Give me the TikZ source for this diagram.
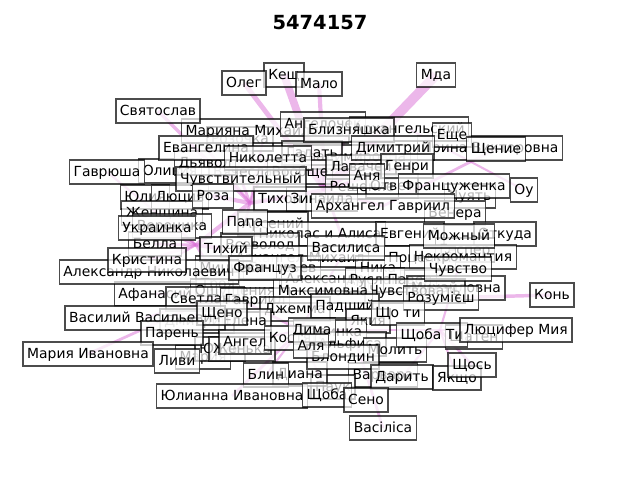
\documentclass[tikz,border=0pt]{standalone}
\usepackage{fontspec}
\setmainfont{DejaVu Sans}
\usetikzlibrary{backgrounds}
\definecolor{orchid}{RGB}{218,112,214}
\tikzset{
  lbl/.style={draw=black, fill=white, opacity=0.7, text opacity=1, line width=1pt, inner xsep=3pt, inner ysep=3pt, text height=8.8pt, text depth=2.6pt, font=\fontsize{10}{12}\selectfont},
  link/.style={draw=orchid, opacity=0.5},
}

\begin{document}
\begin{tikzpicture}[x=0.72pt, y=-0.72pt]
	\useasboundingbox (0,0) rectangle (640,480);
	\node[font=\bfseries\fontsize{14}{17}\selectfont] (title) at (320,23) {5474157};
	\foreach \id/\xx/\yy in {hubA/250/203, hubB/196/245, hubC/325/190, hubD/225/292, hubE/300/330, hubF/440/330} {\coordinate (\id) at (\xx,\yy);}
	\foreach \id/\xx/\yy/\txt in {rozochka/240/139/Розочка, mariyana/265/131/Марияна Михайловна, angelochek/323/124/Ангелочек, vyacheslav/247/172/Вячеслав, olivia/170/171/Оливия, dyavol/205/163/Дьявол, vladimirovna/352/157/Владимировна, gadat/312/153/Гадать, voobshche/300/172/Вообще, lavachey/361/167/Лавачей, reshenie/362/187/Решение, otvet/392/186/Ответ, chuyat/470/196/Чуять, irina/490/148/Ирина Викторовна, arkhangelsky/409/129/Архангельский, yuliya/145/197/Юлия, lyutsiya/180/197/Люция, zhenshchina/162/213/Женщина, veronika/172/226/Вероника, bella/155/244/Белла, tikhon/280/199/Тихон, zinaida/322/199/Зинаида, arseniy/273/224/Арсений, nikolas/320/234/Николас и Алиса, venera/455/213/Венера, evgeniy/410/234/Евгений, otkuda/505/234/Откуда, gesper/465/250/Геспер, potseluy/420/258/Поцелуй, nekromantiya/463/257/Некромантия, vsevolod/260/245/Всеволод, mikhail/300/258/Архангел Михаил, solovyev/282/268/Соловьев, aleksandr/325/279/Александр, nika/378/268/Ника, ruslan/375/280/Руслан, pavel/410/280/Павел, mikhaylovna/456/288/Михайловна, chuvstvovat/415/291/Чувствовать, mitskevich/236/268/Мицкевич, troya/218/284/Троя, afanasiy/155/294/Афанасий, oshchushcheniya/235/291/Ощущения, svetlana/205/299/Светлана, gavriil/255/300/Гавриил, maksimovna/323/291/Максимовна, dzhemma/295/309/Джемма, dmitriy/197/321/Дмитрий, elena/245/321/Елена, padshiy/345/306/Падший, yakiya/368/321/Якия, shaten/474/337/Шатен, marinka/330/332/Маринка, alfisa/350/344/Альфиса, molit/395/350/Молить, varvara/383/375/Варвара, mariya/203/357/Мария, yuriy/220/349/Юрий, zhenka/242/349/Женька, pauk/333/387/Паук, diana/300/374/Диана} {\node[lbl] (\id) at (\xx,\yy) {\txt};}
	\foreach \id/\xx/\yy/\txt in {kesh/284/75/Кещ, malo/319/84/Мало, oleg/244/83/Олег, mda/436/75/Мда, svyatoslav/158/111/Святослав, gavryusha/107/172/Гаврюша, evangelina/206/148/Евангелина, nikoletta/268/158/Николетта, bliznyashka/349/130/Близняшка, eshche/452/135/Еще, dimitriy/393/148/Димитрий, shchenie/496/149/Щение, genri/407/166/Генри, anya/367/176/Аня, chuvstvitelny/241/179/Чувствительный, roza/213/196/Роза, frantsuzhenka/454/186/Француженка, ou/524/190/Оу, arkhangel/383/206/Архангел Гавриил, ukrainka/157/228/Украинка, papa/245/222/Папа, vasilisa/346/248/Василиса, mozhny/459/236/Можный, tikhiy/226/249/Тихий, aleksandrn/149/272/Александр Николаевич, kristina/147/260/Кристина, frantsuz/265/268/Француз, chuvstvo/458/269/Чувство, rozumiesh/441/298/Розумієш, kon/552/295/Конь, vasiliy/145/318/Василий Васильевич, shcheno/222/313/Щено, paren/172/333/Парень, mariyai/88/354/Мария Ивановна, livi/177/361/Ливи, angel/245/342/Ангел, kostya/290/338/Костя, dima/312/330/Дима, blondin/343/357/Блондин, alya/311/346/Аля, shchoty/398/313/Що ти, shchobati/432/335/Щоба Ти, lyutsifer/516/330/Люцифер Мия, darit/402/377/Дарить, yakshcho/457/378/Якщо, shchos/472/365/Щось, blin/266/375/Блин, yulianna/232/396/Юлианна Ивановна, shchoba/327/395/Щоба, seno/366/400/Сено, vasilisa3/383/428/Васіліса} {\node[lbl] (\id) at (\xx,\yy) {\txt};}
	\begin{pgfonlayer}{background}
		\foreach \a/\b/\w in {mda/hubC/7, kesh/hubC/5.5, malo/hubC/3, oleg/hubC/3.5, svyatoslav/hubA/2.5, gavryusha/hubB/1.5, evangelina/hubA/2, nikoletta/hubA/2, mariyana/hubA/1.5, chuvstvitelny/hubA/2, roza/hubA/3, papa/hubA/2, tikhon/hubA/2, hubA/hubB/3, hubA/hubC/3, ukrainka/hubB/2, kristina/hubB/2, aleksandrn/hubB/1.5, tikhiy/hubB/3, bella/hubB/2, zhenshchina/hubB/1.5, bliznyashka/hubC/2, dimitriy/hubC/2, anya/hubC/2, genri/hubC/1.5, arkhangel/hubC/2, ou/arkhangelsky/1.5, shchenie/arkhangel/2, kon/rozumiesh/2.5, mariyai/hubD/2, vasiliy/hubD/1.5, afanasiy/hubD/1.5, paren/hubD/1.5, hubD/hubB/2, hubD/hubE/2, yulianna/hubE/2, blin/hubE/1.5, angel/hubE/1.5, alya/hubE/2, dima/hubE/1.5, shchoba/hubE/1.5, hubE/hubF/2, vasilisa3/padshiy/2, lyutsifer/hubF/2, shchos/hubF/2, yakshcho/hubF/1.5, darit/hubF/1.5, shchobati/hubF/2, chuvstvo/hubF/1.5, hubC/vasilisa/2, vasilisa/hubE/1.5} {\draw[link, line width=\w pt] (\a.center) -- (\b.center);}
	\end{pgfonlayer}
\end{tikzpicture}
\end{document}
